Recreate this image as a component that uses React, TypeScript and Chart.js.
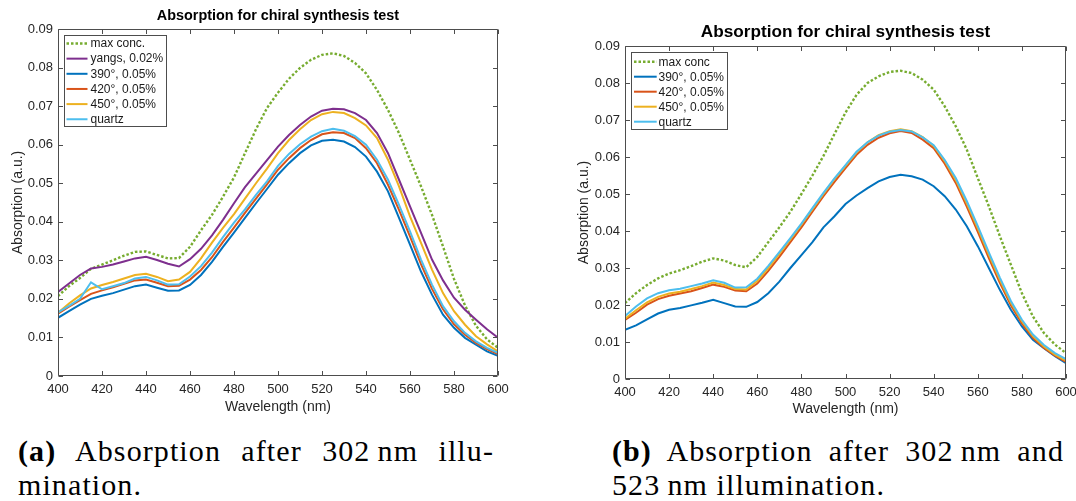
import { useEffect, useRef } from "react";
import { Chart, registerables } from "chart.js";

Chart.register(...registerables);

// ---------- data ----------
const wavelengths = [
  400, 405, 410, 415, 420, 425, 430, 435, 440, 445, 450, 455, 460, 465, 470, 475, 480, 485, 490, 495, 500,
  505, 510, 515, 520, 525, 530, 535, 540, 545, 550, 555, 560, 565, 570, 575, 580, 585, 590, 595, 600,
];
const xTickValues = [400, 420, 440, 460, 480, 500, 520, 540, 560, 580, 600];
const yTickLabels = ["0", "0.01", "0.02", "0.03", "0.04", "0.05", "0.06", "0.07", "0.08", "0.09"];

const titleText = "Absorption for chiral synthesis test";
const xTitle = "Wavelength (nm)";
const yTitle = "Absorption (a.u.)";

// (a) after 302 nm illumination
const aLabels = ["max conc.", "yangs, 0.02%", "390°, 0.05%", "420°, 0.05%", "450°, 0.05%", "quartz"];
const aMaxConc = [
  0.0207, 0.0233, 0.0254, 0.0278, 0.0289, 0.03, 0.0312, 0.0322, 0.0323, 0.0314, 0.0305, 0.0306, 0.0335, 0.0378,
  0.0418, 0.0465, 0.0515, 0.0578, 0.064, 0.0695, 0.0735, 0.0771, 0.0799, 0.082, 0.0833, 0.0837, 0.083, 0.0812,
  0.0785, 0.0742, 0.069, 0.063, 0.0561, 0.0492, 0.0418, 0.0336, 0.0252, 0.0183, 0.013, 0.0095, 0.0073,
];
const aYangs = [
  0.0218, 0.024, 0.0262, 0.0279, 0.0283, 0.0289, 0.0297, 0.0305, 0.0309, 0.0301, 0.0291, 0.0284, 0.0303, 0.033,
  0.0365, 0.0405, 0.0448, 0.049, 0.0525, 0.056, 0.0595, 0.0625, 0.0651, 0.0673, 0.0688, 0.0693, 0.0692, 0.0682,
  0.0664, 0.063, 0.0578, 0.0509, 0.044, 0.0371, 0.0302, 0.0248, 0.0203, 0.0172, 0.0146, 0.0121, 0.0099,
];
const a390 = [
  0.0151, 0.0168, 0.0185, 0.02, 0.0208, 0.0215, 0.0224, 0.0233, 0.0237, 0.0229, 0.0221, 0.0222, 0.0236, 0.0262,
  0.0296, 0.0335, 0.0372, 0.041, 0.0448, 0.0485, 0.0522, 0.0552, 0.0578, 0.0598, 0.061, 0.0613, 0.0608, 0.0594,
  0.0569, 0.053, 0.0479, 0.041, 0.0341, 0.0271, 0.0211, 0.0159, 0.0125, 0.0099, 0.0081, 0.0064, 0.0052,
];
const a420 = [
  0.0162, 0.018, 0.0197, 0.0213, 0.0222, 0.023, 0.0239, 0.0248, 0.025, 0.0242, 0.0233, 0.0234, 0.025, 0.0275,
  0.0308, 0.0348, 0.0385, 0.0423, 0.046, 0.0497, 0.0535, 0.0565, 0.0591, 0.0612, 0.0627, 0.0632, 0.063, 0.0617,
  0.0591, 0.0552, 0.0496, 0.0431, 0.0362, 0.029, 0.0226, 0.0173, 0.0134, 0.0107, 0.0086, 0.007, 0.0057,
];
const a450 = [
  0.0164, 0.0188, 0.0209, 0.0227, 0.0236, 0.0244, 0.0253, 0.0262, 0.0265, 0.0257, 0.0246, 0.025, 0.027, 0.0305,
  0.0346, 0.0384, 0.042, 0.046, 0.05, 0.0538, 0.0578, 0.0612, 0.064, 0.0664, 0.0679, 0.0685, 0.0682, 0.0669,
  0.065, 0.0617, 0.0561, 0.0492, 0.0414, 0.0345, 0.0276, 0.0215, 0.0168, 0.0133, 0.0103, 0.0082, 0.0064,
];
const aQuartz = [
  0.0165, 0.0182, 0.02, 0.0243, 0.0225, 0.0233, 0.0241, 0.0253, 0.0257, 0.0248, 0.0237, 0.0238, 0.0258, 0.0285,
  0.032, 0.036, 0.0398, 0.0432, 0.047, 0.0505, 0.0545, 0.0576, 0.0601, 0.0621, 0.0635, 0.0641, 0.0636, 0.0622,
  0.06, 0.0561, 0.0509, 0.0444, 0.0375, 0.0302, 0.0237, 0.0181, 0.0142, 0.0112, 0.009, 0.0073, 0.006,
];

// (b) after 302 nm and 523 nm illumination
const bLabels = ["max conc", "390°, 0.05%", "420°, 0.05%", "450°, 0.05%", "quartz"];
const bMaxConc = [
  0.0205, 0.0232, 0.0254, 0.0272, 0.0285, 0.0294, 0.0305, 0.0317, 0.0326, 0.032, 0.0308, 0.0302, 0.033, 0.037,
  0.041, 0.0452, 0.05, 0.055, 0.0603, 0.0662, 0.072, 0.0768, 0.08, 0.0818, 0.083, 0.0833, 0.0827, 0.0809, 0.0782,
  0.0737, 0.0683, 0.062, 0.0543, 0.0467, 0.0386, 0.0309, 0.0232, 0.0169, 0.0124, 0.0093, 0.007,
];
const b390 = [
  0.0133, 0.0145, 0.0161, 0.0177, 0.0187, 0.0192, 0.0199, 0.0206, 0.0214, 0.0205, 0.0196, 0.0195, 0.0208, 0.0232,
  0.0263, 0.03, 0.0335, 0.037, 0.041, 0.044, 0.0473, 0.0496, 0.0516, 0.0534, 0.0546, 0.0552, 0.0548, 0.0539,
  0.0521, 0.0494, 0.0458, 0.0413, 0.0359, 0.03, 0.0241, 0.0187, 0.0142, 0.0106, 0.0083, 0.0062, 0.0043,
];
const b420 = [
  0.016, 0.0179, 0.0201, 0.0216, 0.0225, 0.0231, 0.0237, 0.0246, 0.0255, 0.0249, 0.0239, 0.0237, 0.0258, 0.0292,
  0.033, 0.037, 0.041, 0.0452, 0.0494, 0.0533, 0.057, 0.0606, 0.0633, 0.0652, 0.0664, 0.067, 0.0665, 0.0647,
  0.0624, 0.0582, 0.053, 0.0466, 0.0398, 0.0327, 0.026, 0.0199, 0.015, 0.0111, 0.0084, 0.0063, 0.0046,
];
const b450 = [
  0.0163, 0.0186, 0.0207, 0.0222, 0.0231, 0.0236, 0.0243, 0.0251, 0.0261, 0.0254, 0.0243, 0.0242, 0.0265, 0.03,
  0.0338, 0.0377, 0.0417, 0.0459, 0.05, 0.054, 0.0576, 0.0612, 0.064, 0.0659, 0.067, 0.0675, 0.067, 0.0654,
  0.063, 0.0589, 0.0538, 0.0475, 0.0407, 0.0336, 0.0268, 0.0206, 0.0156, 0.0116, 0.0088, 0.0066, 0.005,
];
const bQuartz = [
  0.017, 0.0196, 0.0218, 0.0232, 0.024, 0.0244, 0.0251, 0.0258, 0.0267, 0.026, 0.0247, 0.0248, 0.0271, 0.0306,
  0.0343, 0.0381, 0.042, 0.0462, 0.0503, 0.0542, 0.0578, 0.0614, 0.064, 0.0658, 0.0668, 0.0673, 0.0669, 0.0653,
  0.0632, 0.0592, 0.0543, 0.0481, 0.0413, 0.0342, 0.0274, 0.0211, 0.016, 0.012, 0.0092, 0.007, 0.0054,
];

// ---------- styles ----------
const FONT = "'Liberation Sans', Arial, Helvetica, sans-serif";
const STYLE: Record<string, { color: string; dash: number[]; width: number }> = {
  green: { color: "#77AC30", dash: [2.5, 2], width: 2.4 },
  purple: { color: "#7E2F8E", dash: [], width: 2 },
  blue: { color: "#0072BD", dash: [], width: 2 },
  orange: { color: "#D95319", dash: [], width: 2 },
  yellow: { color: "#EDB120", dash: [], width: 2 },
  cyan: { color: "#4DBEEE", dash: [], width: 2 },
};

type Geo = {
  W: number; H: number; L: number; R: number; T: number; B: number;
  titleSize: number; titleCenter: number; yTitleX: number; xTitleY: number;
  legend: { x: number; y: number; w: number; h: number; row0: number; step: number; l0: number; l1: number; tx: number };
};

const boxPlugin = {
  id: "matlabBox",
  afterDatasetsDraw(chart: any) {
    const { ctx, chartArea: a, scales } = chart;
    ctx.save();
    ctx.strokeStyle = "#4d4d4d";
    ctx.lineWidth = 1;
    ctx.setLineDash([]);
    const l = a.left + 0.5, r = a.right - 0.5, t = a.top + 0.5, b = a.bottom - 0.5;
    ctx.beginPath();
    ctx.rect(l, t, r - l, b - t);
    const tl = 4.5;
    xTickValues.forEach((v) => {
      const px = Math.round(scales.x.getPixelForValue(v)) + 0.5;
      ctx.moveTo(px, b); ctx.lineTo(px, b - tl);
      ctx.moveTo(px, t); ctx.lineTo(px, t + tl);
    });
    yTickLabels.forEach((s) => {
      const py = Math.round(scales.y.getPixelForValue(Number(s))) + 0.5;
      ctx.moveTo(l, py); ctx.lineTo(l + tl, py);
      ctx.moveTo(r, py); ctx.lineTo(r - tl, py);
    });
    ctx.stroke();
    ctx.restore();
  },
};

const legendPlugin = {
  id: "matlabLegend",
  afterDraw(chart: any, _args: any, opts: any) {
    const g = opts.geo;
    if (!g) return;
    const { ctx } = chart;
    ctx.save();
    ctx.fillStyle = "#ffffff";
    ctx.fillRect(g.x, g.y, g.w, g.h);
    ctx.strokeStyle = "#4d4d4d";
    ctx.lineWidth = 1;
    ctx.setLineDash([]);
    ctx.strokeRect(g.x + 0.5, g.y + 0.5, g.w - 1, g.h - 1);
    ctx.font = `12px ${FONT}`;
    ctx.textBaseline = "middle";
    ctx.textAlign = "left";
    chart.data.datasets.forEach((ds: any, i: number) => {
      const y = g.row0 + i * g.step;
      ctx.beginPath();
      ctx.strokeStyle = ds.borderColor;
      ctx.lineWidth = ds.borderWidth;
      ctx.setLineDash(ds.borderDash || []);
      ctx.moveTo(g.l0, y);
      ctx.lineTo(g.l1, y);
      ctx.stroke();
      ctx.setLineDash([]);
      ctx.fillStyle = "#1a1a1a";
      ctx.fillText(ds.label, g.tx, y + 0.5);
    });
    ctx.restore();
  },
};

function Panel({ labels, series, styles, geo }: { labels: string[]; series: number[][]; styles: string[]; geo: Geo }) {
  const ref = useRef<HTMLCanvasElement | null>(null);
  useEffect(() => {
    if (!ref.current) return;
    const n = series.length;
    const datasets = series.map((vals, i) => {
      const st = STYLE[styles[i]];
      return {
        label: labels[i],
        data: wavelengths.map((w, k) => ({ x: w, y: vals[k] })),
        borderColor: st.color,
        backgroundColor: st.color,
        borderWidth: st.width,
        borderDash: st.dash,
        borderCapStyle: "butt",
        pointRadius: 0,
        tension: 0,
        fill: false,
        order: n - i,
      };
    });
    const titleLH = geo.titleSize * 1.2;
    const titlePadTop = geo.titleCenter - titleLH / 2;
    const titlePadBottom = geo.T - titlePadTop - titleLH;
    const chart = new Chart(ref.current, {
      type: "line",
      data: { datasets: datasets as any },
      plugins: [boxPlugin, legendPlugin],
      options: {
        animation: false,
        responsive: false,
        maintainAspectRatio: false,
        layout: { padding: { left: 0, right: geo.W - geo.R, top: 0, bottom: 0 } },
        plugins: {
          legend: { display: false },
          tooltip: { enabled: false },
          title: {
            display: true,
            text: titleText,
            fullSize: false,
            color: "#000",
            font: { family: FONT, size: geo.titleSize, weight: "bold", lineHeight: 1.2 },
            padding: { top: titlePadTop, bottom: titlePadBottom },
          },
          matlabLegend: { geo: geo.legend },
        } as any,
        scales: {
          x: {
            type: "linear",
            min: 400,
            max: 600,
            grid: { display: false, drawTicks: false },
            border: { display: false },
            ticks: { color: "#262626", font: { family: FONT, size: 13 }, padding: 6, maxRotation: 0, autoSkip: false },
            afterBuildTicks: (s: any) => { s.ticks = xTickValues.map((v) => ({ value: v })); },
            afterFit: (s: any) => { s.height = geo.H - geo.B; s.paddingLeft = 0; s.paddingRight = 0; },
            title: {
              display: true,
              text: xTitle,
              color: "#262626",
              font: { family: FONT, size: 14, lineHeight: 1.2 },
              padding: { top: 0, bottom: geo.H - geo.xTitleY - 8.4 },
            },
          },
          y: {
            type: "linear",
            min: 0,
            max: 0.09,
            grid: { display: false, drawTicks: false },
            border: { display: false },
            ticks: {
              color: "#262626",
              font: { family: FONT, size: 13 },
              padding: 5,
              autoSkip: false,
              callback: (v: any) => yTickLabels[Math.round(Number(v) * 100)],
            },
            afterBuildTicks: (s: any) => { s.ticks = yTickLabels.map((t) => ({ value: Number(t) })); },
            afterFit: (s: any) => { s.width = geo.L; s.paddingTop = 0; s.paddingBottom = 0; },
            title: {
              display: true,
              text: yTitle,
              color: "#262626",
              font: { family: FONT, size: 14, lineHeight: 1.2 },
              padding: { top: geo.yTitleX - 8.4, bottom: 0 },
            },
          },
        },
      } as any,
    });
    return () => chart.destroy();
  }, []);
  return <canvas ref={ref} width={geo.W} height={geo.H} style={{ width: geo.W, height: geo.H, display: "block" }} />;
}

const geoA: Geo = {
  W: 520, H: 425, L: 58, R: 498, T: 29, B: 376,
  titleSize: 14.4, titleCenter: 16.3, yTitleX: 18, xTitleY: 407.3,
  legend: { x: 64, y: 35, w: 103, h: 92, row0: 43.5, step: 15.15, l0: 66.5, l1: 87.5, tx: 90.5 },
};
const geoB: Geo = {
  W: 516, H: 425, L: 65, R: 506, T: 46, B: 379,
  titleSize: 17.2, titleCenter: 32, yTitleX: 24.5, xTitleY: 409,
  legend: { x: 71, y: 52, w: 97, h: 78, row0: 61.7, step: 15, l0: 74, l1: 96.7, tx: 98.5 },
};

const captionStyle: React.CSSProperties = {
  position: "absolute",
  top: 434,
  fontFamily: "'Liberation Serif', 'Times New Roman', serif",
  fontSize: 30,
  lineHeight: "34px",
  letterSpacing: "1.1px",
  color: "#000",
};
const justifyLine: React.CSSProperties = { textAlign: "justify", textAlignLast: "justify" } as any;

export default function App() {
  return (
    <div style={{ position: "absolute", left: 0, top: 0, width: 1076, height: 501, background: "#fff", overflow: "hidden" }}>
      <div style={{ position: "absolute", left: 0, top: 0 }}>
        <Panel
          labels={aLabels}
          series={[aMaxConc, aYangs, a390, a420, a450, aQuartz]}
          styles={["green", "purple", "blue", "orange", "yellow", "cyan"]}
          geo={geoA}
        />
      </div>
      <div style={{ position: "absolute", left: 560, top: 0 }}>
        <Panel
          labels={bLabels}
          series={[bMaxConc, b390, b420, b450, bQuartz]}
          styles={["green", "blue", "orange", "yellow", "cyan"]}
          geo={geoB}
        />
      </div>
      <div style={{ ...captionStyle, left: 18, width: 476 }}>
        <div style={justifyLine}>
          <b>(a)</b> Absorption after 302{"\u2009"}nm illu-
        </div>
        <div>mination.</div>
      </div>
      <div style={{ ...captionStyle, left: 612, width: 452 }}>
        <div style={justifyLine}>
          <b>(b)</b> Absorption after 302{"\u2009"}nm and
        </div>
        <div>523{"\u2009"}nm illumination.</div>
      </div>
    </div>
  );
}
